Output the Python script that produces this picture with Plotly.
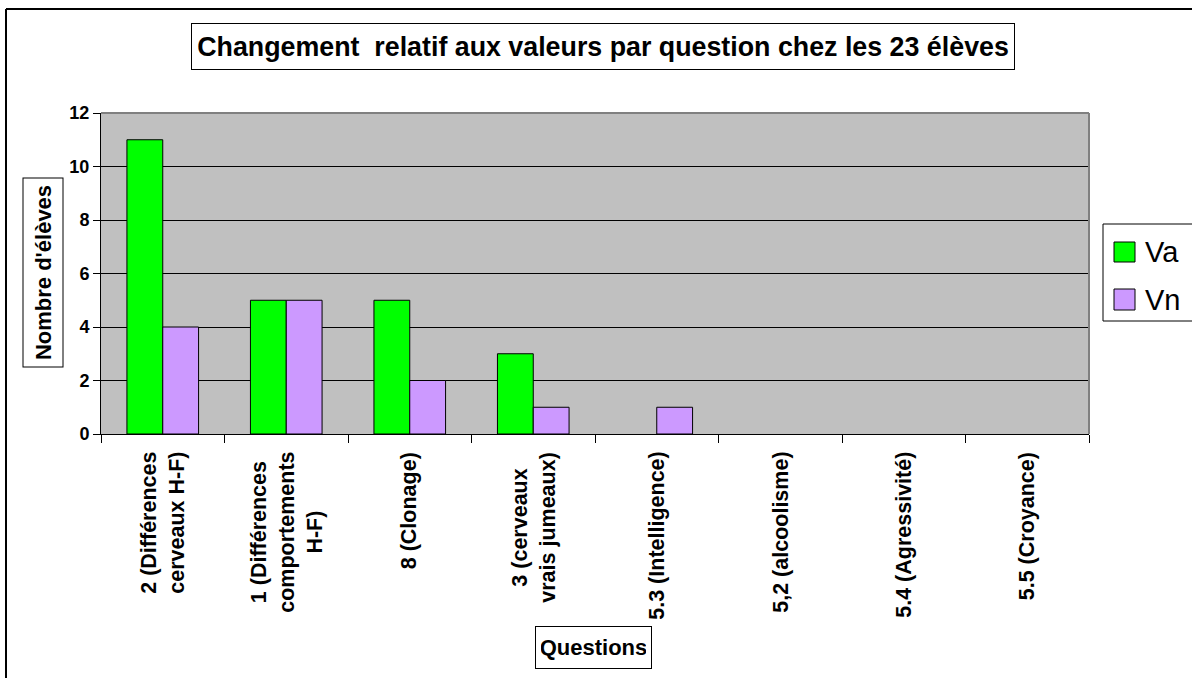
import plotly.graph_objects as go

categories = [
    "2 (Différences<br>cerveaux H-F)",
    "1 (Différences<br>comportements<br>H-F)",
    "8 (Clonage)",
    "3 (cerveaux<br>vrais jumeaux)",
    "5.3 (Intelligence)",
    "5,2 (alcoolisme)",
    "5.4 (Agressivité)",
    "5.5 (Croyance)",
]
va_values = [11, 5, 5, 3, 0, 0, 0, 0]
vn_values = [4, 5, 2, 1, 1, 0, 0, 0]
y_ticks = [0, 2, 4, 6, 8, 10, 12]

FONT = "Arial, Liberation Sans, sans-serif"
GREEN = "#00FF00"
PURPLE = "#CC99FF"

W, H = 1192, 678
L, R, T, B = 101, 103, 113, 244
PW = W - L - R
PH = H - T - B


def px(xp):
    return (xp - L) / PW


def py(yp):
    return (H - B - yp) / PH


def outline(vals):
    return [1 if v else 0 for v in vals]


fig = go.Figure()
fig.add_trace(go.Bar(x=categories, y=va_values, name="Va",
                     marker=dict(color=GREEN, line=dict(color="black", width=outline(va_values)))))
fig.add_trace(go.Bar(x=categories, y=vn_values, name="Vn",
                     marker=dict(color=PURPLE, line=dict(color="black", width=outline(vn_values)))))

fig.update_layout(
    width=W, height=H,
    margin=dict(l=L, r=R, t=T, b=B, autoexpand=False),
    paper_bgcolor="white",
    plot_bgcolor="#C0C0C0",
    barmode="group",
    bargap=0.42,
    bargroupgap=0,
    showlegend=False,
    font=dict(family=FONT, color="black"),
    xaxis=dict(
        type="category",
        showline=True, linecolor="black", linewidth=1,
        ticks="outside", ticklen=8, tickcolor="black", tickwidth=1,
        tickson="boundaries",
        showticklabels=False,
        showgrid=False,
    ),
    yaxis=dict(
        range=[0, 12],
        tickvals=y_ticks,
        showline=True, linecolor="black", linewidth=1,
        ticks="outside", ticklen=7, tickcolor="black", tickwidth=1,
        tickfont=dict(size=18, family=FONT, weight="bold"),
        showgrid=True, gridcolor="black", gridwidth=1,
        zeroline=False,
    ),
)

shapes = []
# plot area top and right border (grey)
shapes.append(dict(type="line", xref="paper", yref="paper", x0=0, x1=1, y0=1, y1=1,
                   line=dict(color="#808080", width=2), layer="above"))
shapes.append(dict(type="line", xref="paper", yref="paper", x0=1, x1=1, y0=0, y1=1,
                   line=dict(color="#808080", width=2), layer="above"))
# outer chart border (left and top visible)
shapes.append(dict(type="line", xref="paper", yref="paper", x0=px(6), x1=px(6), y0=py(9), y1=py(700),
                   line=dict(color="black", width=2)))
shapes.append(dict(type="line", xref="paper", yref="paper", x0=px(6), x1=px(1200), y0=py(9), y1=py(9),
                   line=dict(color="black", width=2)))
# legend box
shapes.append(dict(type="rect", xref="paper", yref="paper", x0=px(1103), x1=px(1200), y0=py(321), y1=py(224),
                   line=dict(color="black", width=1), fillcolor="white"))
shapes.append(dict(type="rect", xref="paper", yref="paper", x0=px(1114), x1=px(1135), y0=py(262), y1=py(242),
                   line=dict(color="black", width=1), fillcolor=GREEN))
shapes.append(dict(type="rect", xref="paper", yref="paper", x0=px(1114), x1=px(1135), y0=py(310), y1=py(289),
                   line=dict(color="black", width=1), fillcolor=PURPLE))
fig.update_layout(shapes=shapes)

annotations = [
    dict(text="<b>Changement  relatif aux valeurs par question chez les 23 élèves</b>",
         xref="paper", yref="paper", x=px(603), y=py(46.5), xanchor="center", yanchor="middle",
         showarrow=False, font=dict(size=26.8, family=FONT, color="black"),
         width=812, height=35,
         bordercolor="black", borderwidth=1, borderpad=5, bgcolor="white"),
    dict(text="<b>Nombre d'élèves</b>", textangle=-90,
         xref="paper", yref="paper", x=px(42.5), y=py(273), xanchor="center", yanchor="middle",
         showarrow=False, font=dict(size=22, family=FONT, color="black"),
         width=182, height=33,
         bordercolor="black", borderwidth=1, borderpad=3, bgcolor="white"),
    dict(text="<b>Questions</b>",
         xref="paper", yref="paper", x=px(593.5), y=py(647.5), xanchor="center", yanchor="middle",
         showarrow=False, font=dict(size=22, family=FONT, color="black"),
         width=105, height=31,
         bordercolor="black", borderwidth=1, borderpad=5, bgcolor="white"),
    dict(text="Va", xref="paper", yref="paper", x=px(1143), y=py(252), xanchor="left", yanchor="middle",
         showarrow=False, font=dict(size=29, family=FONT, color="black")),
    dict(text="Vn", xref="paper", yref="paper", x=px(1143), y=py(299.5), xanchor="left", yanchor="middle",
         showarrow=False, font=dict(size=29, family=FONT, color="black")),
]
# category labels, rotated and centred under each category of the x axis
for cat in categories:
    annotations.append(dict(
        text="<b>" + cat + "</b>", textangle=-90, align="center",
        xref="x", yref="paper", x=cat, y=py(451), xanchor="center", yanchor="top",
        showarrow=False, borderpad=0,
        font=dict(size=21.5, family=FONT, color="black"),
    ))
fig.update_layout(annotations=annotations)

fig.write_html("out.html", config={"displayModeBar": False},
               post_script="document.body.style.margin='0';document.body.style.overflow='hidden';")
